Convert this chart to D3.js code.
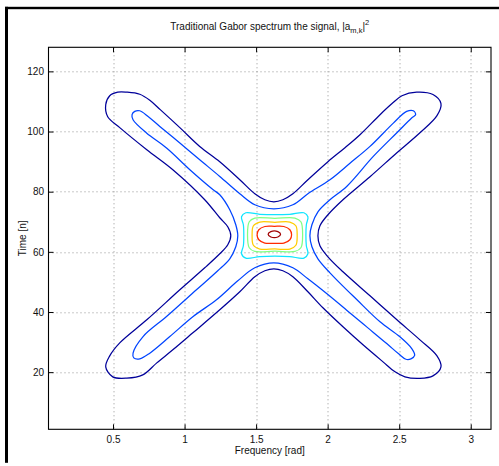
<!DOCTYPE html>
<html>
<head>
<meta charset="utf-8">
<script src="https://cdn.jsdelivr.net/npm/d3@7"></script>
<style>
  body { margin: 0; background: #fff; }
  svg text { font-family: "Liberation Sans", Arial, Helvetica, sans-serif; fill: #111; }
</style>
</head>
<body>
<div id="chart"></div>
<script>
// axis ticks
var freqTicks = [0.5, 1, 1.5, 2, 2.5, 3];
var timeTicks = [20, 40, 60, 80, 100, 120];

// contour lines, as [frequency rad, time n]
var levelNavy = [
  [0.449,108.9],[0.477,111.9],[0.533,113.1],[0.596,113.1],[0.687,112.4],[0.757,110.4],[0.832,107.2],
  [0.967,101.3],[1.106,95.05],[1.246,89.96],[1.386,83.97],[1.491,79.31],[1.561,77.32],[1.624,76.65],
  [1.687,77.32],[1.757,79.31],[1.862,83.97],[2.002,89.96],[2.121,94.61],[2.226,98.94],[2.366,105.6],
  [2.450,109.3],[2.519,111.9],[2.622,113.1],[2.736,112.3],[2.792,109.3],[2.764,105.3],[2.645,99.6],
  [2.484,92.95],[2.296,84.97],[2.107,77.32],[2.002,72.33],[1.946,68.67],[1.932,65.34],[1.946,62.01],
  [2.002,58.35],[2.107,53.36],[2.296,45.38],[2.484,37.4],[2.645,30.74],[2.764,25.42],[2.792,21.76],
  [2.736,18.77],[2.645,17.93],[2.540,18.43],[2.471,20.1],[2.387,23.42],[2.247,29.08],[2.107,35.07],
  [1.967,41.39],[1.862,46.71],[1.757,51.7],[1.687,53.7],[1.624,54.36],[1.561,53.7],[1.491,51.7],
  [1.386,46.71],[1.246,40.72],[1.058,33.07],[0.918,27.42],[0.806,23.09],[0.708,19.1],[0.596,18.0],
  [0.498,18.43],[0.449,21.76],[0.477,25.42],[0.547,29.74],[0.736,37.4],[0.967,47.38],[1.141,54.69],
  [1.246,59.35],[1.302,62.35],[1.323,65.34],[1.302,68.33],[1.246,71.33],[1.141,77.32],[0.918,87.3],
  [0.736,93.95],[0.547,101.3],[0.463,104.9]
];
var levelBlue = [
  [0.633,105.6],[0.652,106.7],[0.687,106.9],[0.745,105.0],[0.827,101.7],[0.967,96.18],[1.106,90.62],
  [1.246,85.07],[1.386,79.31],[1.491,75.65],[1.624,74.32],[1.757,75.65],[1.862,79.31],[2.016,83.97],
  [2.156,89.46],[2.296,95.05],[2.459,102.8],[2.552,106.7],[2.599,106.9],[2.615,105.6],[2.587,104.5],
  [2.482,99.51],[2.319,91.72],[2.133,81.74],[2.016,77.32],[1.932,73.32],[1.890,69.0],[1.876,65.34],
  [1.890,61.68],[1.932,57.69],[2.016,53.03],[2.205,44.05],[2.366,36.73],[2.505,31.74],[2.589,27.75],
  [2.608,25.55],[2.582,24.42],[2.547,24.29],[2.496,26.08],[2.415,29.41],[2.275,34.97],[2.135,40.52],
  [1.995,46.04],[1.862,51.03],[1.757,54.69],[1.624,56.36],[1.491,54.69],[1.372,50.37],[1.223,44.05],
  [1.060,38.49],[0.897,31.84],[0.757,26.32],[0.687,24.42],[0.645,24.75],[0.640,26.32],[0.710,31.84],
  [0.874,38.49],[1.083,47.38],[1.232,53.7],[1.316,57.69],[1.358,61.68],[1.372,65.34],[1.358,69.0],
  [1.316,73.99],[1.246,78.98],[1.200,80.64],[1.037,87.3],[0.874,94.52],[0.734,99.5],[0.640,103.9]
];
var levelCyan = [
  [1.428,72.99],[1.526,72.49],[1.631,72.33],[1.736,72.49],[1.834,72.99],[1.862,71.66],[1.851,69.0],
  [1.848,65.51],[1.851,62.01],[1.862,59.35],[1.834,57.92],[1.736,58.42],[1.631,58.59],[1.526,58.42],
  [1.428,57.92],[1.398,59.35],[1.411,62.01],[1.414,65.51],[1.411,69.0],[1.398,71.66]
];
var levelGreen = [
  [1.491,71.23],[1.631,71.13],[1.771,71.23],[1.813,70.0],[1.825,65.67],[1.813,61.35],
  [1.771,60.12],[1.631,60.22],[1.491,60.12],[1.452,61.35],[1.440,65.67],[1.452,70.0]
];
var levelYellow = [
  [1.526,69.9],[1.631,69.83],[1.736,69.9],[1.778,68.67],[1.787,65.41],[1.778,62.18],
  [1.736,60.92],[1.631,60.95],[1.526,60.92],[1.481,62.18],[1.472,65.41],[1.481,68.67]
];
var levelRed = [
  [1.561,68.43],[1.628,68.5],[1.694,68.43],[1.736,67.34],[1.748,65.67],[1.736,64.01],
  [1.694,62.91],[1.628,62.84],[1.561,62.91],[1.519,64.01],[1.507,65.67],[1.519,67.34]
];
var levelDarkRed = [
  [1.603,66.74],[1.652,66.74],[1.671,65.84],[1.652,64.94],[1.603,64.94],[1.584,65.84]
];

var levels = [levelNavy, levelBlue, levelCyan, levelGreen, levelYellow, levelRed, levelDarkRed];
var levelColors = ["#00009a", "#0044ff", "#10e4ff", "#80ff80", "#ffcc00", "#ff2a00", "#a00000"];

var W = 499, H = 466;
var margin = { top: 47.3, right: 8, bottom: 36.7, left: 48.5 };
var width = W - margin.left - margin.right,
    height = H - margin.top - margin.bottom;

var svg = d3.select("#chart").append("svg")
    .attr("width", W)
    .attr("height", H);

// window frame edges
svg.append("rect").attr("x", 5).attr("y", 6.8).attr("width", 494).attr("height", 2.4).attr("fill", "#000");
svg.append("rect").attr("x", 5).attr("y", 6.8).attr("width", 3).attr("height", 456).attr("fill", "#000");

var g = svg.append("g").attr("transform", "translate(" + margin.left + "," + margin.top + ")");

var x = d3.scaleLinear().domain([2 * Math.PI / 128, Math.PI]).range([0, width]);
var y = d3.scaleLinear().domain([1, 128]).range([height, 0]);

// dotted grid
g.append("g").selectAll("line")
    .data(freqTicks).enter().append("line")
    .attr("x1", function (d) { return Math.round(x(d)) + 0.5; })
    .attr("x2", function (d) { return Math.round(x(d)) + 0.5; })
    .attr("y1", 0).attr("y2", height)
    .attr("stroke", "#777").attr("stroke-width", 0.8).attr("stroke-dasharray", "1,3");
g.append("g").selectAll("line")
    .data(timeTicks).enter().append("line")
    .attr("y1", function (d) { return Math.round(y(d)) + 0.5; })
    .attr("y2", function (d) { return Math.round(y(d)) + 0.5; })
    .attr("x1", 0).attr("x2", width)
    .attr("stroke", "#777").attr("stroke-width", 0.8).attr("stroke-dasharray", "1,3");

// contours
var line = d3.line()
    .x(function (d) { return x(d[0]); })
    .y(function (d) { return y(d[1]); })
    .curve(d3.curveCatmullRomClosed.alpha(0.5));

g.append("g").selectAll("path")
    .data(levels).enter().append("path")
    .attr("d", line)
    .attr("fill", "none")
    .attr("stroke", function (d, i) { return levelColors[i]; })
    .attr("stroke-width", 1.25)
    .attr("stroke-linejoin", "round");

// axes, ticks pointing inwards
var fmt = d3.format("~g");
function styleAxis(sel) {
    sel.select(".domain").remove();
    sel.selectAll("line").attr("stroke", "#000");
    sel.selectAll("text").attr("font-size", "10px").attr("fill", "#111");
}
g.append("g").attr("transform", "translate(0," + height + ")")
    .call(d3.axisBottom(x).tickValues(freqTicks).tickFormat(fmt).tickSizeInner(-5).tickSizeOuter(0).tickPadding(6.5))
    .call(styleAxis);
g.append("g")
    .call(d3.axisTop(x).tickValues(freqTicks).tickFormat("").tickSizeInner(-5).tickSizeOuter(0))
    .call(styleAxis);
g.append("g")
    .call(d3.axisLeft(y).tickValues(timeTicks).tickFormat(fmt).tickSizeInner(-5).tickSizeOuter(0).tickPadding(4.5))
    .call(styleAxis);
g.append("g").attr("transform", "translate(" + width + ",0)")
    .call(d3.axisRight(y).tickValues(timeTicks).tickFormat("").tickSizeInner(-5).tickSizeOuter(0))
    .call(styleAxis);

// box
g.append("rect")
    .attr("width", width).attr("height", height)
    .attr("fill", "none").attr("stroke", "#000").attr("stroke-width", 1.1);

// labels
g.append("text")
    .attr("x", width / 2).attr("y", height + 25)
    .attr("text-anchor", "middle").attr("font-size", "10px")
    .text("Frequency [rad]");

svg.append("text")
    .attr("transform", "translate(25.5," + (margin.top + height / 2) + ") rotate(-90)")
    .attr("text-anchor", "middle").attr("font-size", "10px")
    .text("Time [n]");

var title = g.append("text")
    .attr("x", width / 2).attr("y", -17)
    .attr("text-anchor", "middle").attr("font-size", "10px");
title.append("tspan").text("Traditional Gabor spectrum the signal, |a");
title.append("tspan").attr("font-size", "7.5px").attr("dy", 3).text("m,k");
title.append("tspan").attr("dy", -3).text("|");
title.append("tspan").attr("font-size", "7.5px").attr("dy", -5).text("2");
</script>
</body>
</html>
